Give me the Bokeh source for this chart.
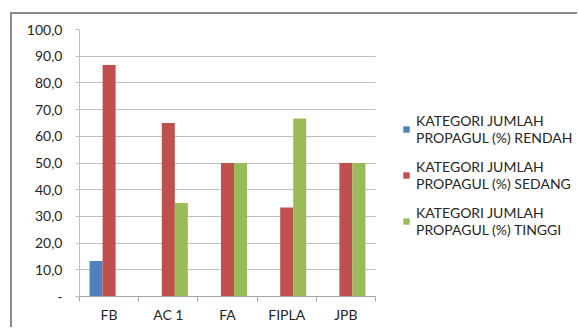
from bokeh.plotting import figure
from bokeh.models import (Range1d, FixedTicker, Legend, LegendItem, ColumnDataSource,
                          BoxAnnotation)
from bokeh.embed import file_html
from bokeh.resources import INLINE

# Data
categories = ["FB", "AC 1", "FA", "FIPLA", "JPB"]
rendah = [13.3, 0, 0, 0, 0]
sedang = [86.7, 65.0, 50.0, 33.3, 50.0]
tinggi = [0, 35.0, 50.0, 66.7, 50.0]
series_names = ["KATEGORI JUMLAH\nPROPAGUL (%) RENDAH",
                "KATEGORI JUMLAH\nPROPAGUL (%) SEDANG",
                "KATEGORI JUMLAH\nPROPAGUL (%) TINGGI"]
y_ticks = [0, 10, 20, 30, 40, 50, 60, 70, 80, 90, 100]

colors = ["#4F81BD", "#C0504D", "#9BBB59"]
FONT = "Lato"
TEXT = "#262626"
GRID = "#BFBFBF"
FS = "14px"

n = len(categories)
# the bar area takes 296 of the 500px frame; the rest holds the legend
x_end = n * 500 / 296

# figure sits 10px in / 12px down, framed on the top and left
p = figure(width=567, height=315, output_backend="svg", toolbar_location=None,
           x_range=Range1d(0, x_end), y_range=Range1d(0, 100),
           min_border_left=67, min_border_right=0, min_border_top=15,
           min_border_bottom=33)
p.margin = (12, 0, 0, 10)
p.styles = {"border-top": "2px solid #8C8C8C", "border-left": "2px solid #8C8C8C"}
p.outline_line_color = None
p.background_fill_color = "white"
p.border_fill_color = "white"

centers = [i + 0.5 for i in range(n)]
bw = 0.22
renderers = []
for k, vals in enumerate([rendah, sedang, tinggi]):
    src = ColumnDataSource(dict(x=[c + (k - 1) * bw for c in centers], top=vals))
    r = p.vbar(x="x", top="top", width=bw, source=src, fill_color=colors[k],
               line_color=None)
    renderers.append(r)

# y axis
p.yaxis.ticker = FixedTicker(ticks=y_ticks)
p.yaxis.major_label_overrides = {t: ("-" if t == 0 else f"{t:.1f}".replace(".", ","))
                                 for t in y_ticks}
p.yaxis.axis_line_color = GRID
p.yaxis.major_tick_line_color = GRID
p.yaxis.major_tick_out = 4
p.yaxis.major_tick_in = 0
p.yaxis.minor_tick_line_color = None
p.yaxis.major_label_standoff = 13
p.yaxis.major_label_text_font = FONT
p.yaxis.major_label_text_font_size = FS
p.yaxis.major_label_text_color = TEXT

# x axis: labels at category centres, marks at category boundaries
p.xaxis.bounds = (0, n)
p.xaxis.ticker = FixedTicker(ticks=centers, minor_ticks=list(range(n + 1)))
p.xaxis.major_label_overrides = {c: name for c, name in zip(centers, categories)}
p.xaxis.axis_line_color = "#A6A6A6"
p.xaxis.major_tick_line_color = None
p.xaxis.major_tick_out = 0
p.xaxis.major_tick_in = 0
p.xaxis.minor_tick_line_color = "#A6A6A6"
p.xaxis.minor_tick_out = 5
p.xaxis.minor_tick_in = 0
p.xaxis.major_label_standoff = 4
p.xaxis.major_label_text_font = FONT
p.xaxis.major_label_text_font_size = FS
p.xaxis.major_label_text_color = TEXT

p.xgrid.visible = False
p.ygrid.ticker = FixedTicker(ticks=y_ticks[1:])
p.ygrid.grid_line_color = GRID

# blank the legend side so gridlines stop at the last category
p.add_layout(BoxAnnotation(left=n, fill_color="white", fill_alpha=1,
                           line_color=None, level="underlay"))

legend = Legend(items=[LegendItem(label=name, renderers=[r])
                       for name, r in zip(series_names, renderers)],
                location=(323, 58), orientation="vertical")
legend.border_line_color = None
legend.background_fill_alpha = 0
legend.padding = 0
legend.margin = 0
legend.glyph_width = 8
legend.glyph_height = 8
legend.label_standoff = 6
legend.spacing = 12
legend.label_text_font = FONT
legend.label_text_font_size = FS
legend.label_text_color = TEXT
legend.label_text_line_height = 1.4
p.add_layout(legend, "center")

open("out.html", "w").write(file_html(p, INLINE))
